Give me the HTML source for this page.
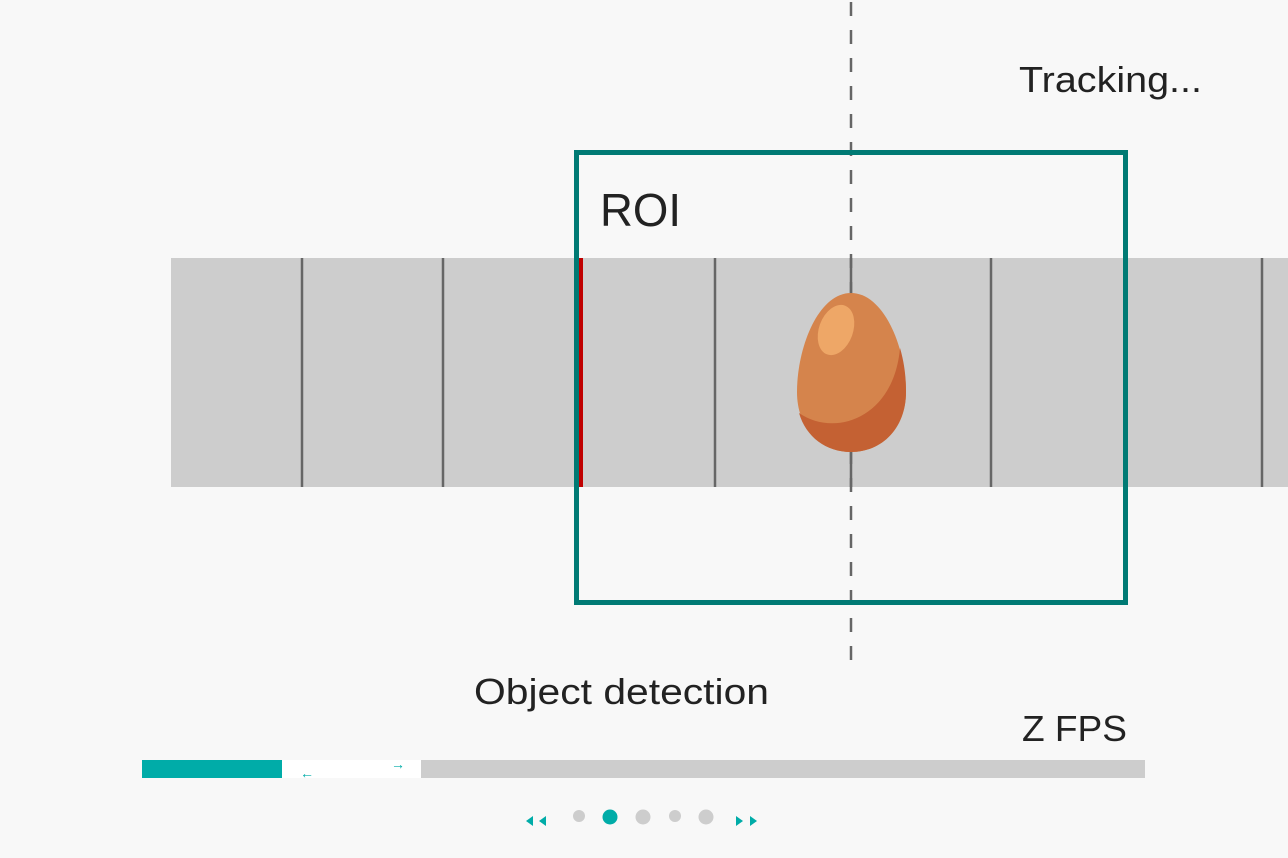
<!DOCTYPE html>
<html><head><meta charset="utf-8"><style>
html,body{margin:0;padding:0;background:#f8f8f8;}
svg{display:block;font-family:"Liberation Sans",sans-serif;}
</style></head><body>
<svg width="1288" height="858" viewBox="0 0 1288 858" xmlns="http://www.w3.org/2000/svg">
<rect width="1288" height="858" fill="#f8f8f8"/>
<rect x="171" y="258" width="1117" height="229" fill="#cdcdcd"/>
<g stroke="#666" stroke-width="2.5">
<line x1="302" y1="258" x2="302" y2="487"/>
<line x1="443" y1="258" x2="443" y2="487"/>
<line x1="715" y1="258" x2="715" y2="487"/>
<line x1="851" y1="258" x2="851" y2="487"/>
<line x1="991" y1="258" x2="991" y2="487"/>
<line x1="1262" y1="258" x2="1262" y2="487"/>
</g>
<line x1="851" y1="2" x2="851" y2="664" stroke="#666" stroke-width="2.5" stroke-dasharray="14 14"/>
<line x1="581" y1="258" x2="581" y2="487" stroke="#c00000" stroke-width="4"/>
<rect x="576.5" y="152.5" width="549" height="450" fill="none" stroke="#007a74" stroke-width="5"/>
<g>
<path d="M851 293 C884 293 906 348 906 392 C906 428 882 452 851 452 C820 452 797 428 797 392 C797 348 818 293 851 293 Z" fill="#d5844c"/>
<path d="M900 348 C905 365 906 380 906 392 C906 428 882 452 851 452 C826 452 806 437 799 413 C835 438 894 418 900 348 Z" fill="#c46133"/>
<ellipse cx="836" cy="330" rx="17" ry="26" transform="rotate(20 836 330)" fill="#eea767"/>
</g>
<text x="600" y="226" font-size="46" fill="#222" textLength="81" lengthAdjust="spacingAndGlyphs">ROI</text>
<text x="1019" y="92" font-size="36" fill="#222" textLength="183" lengthAdjust="spacingAndGlyphs">Tracking...</text>
<text x="474" y="704" font-size="36" fill="#222" textLength="295" lengthAdjust="spacingAndGlyphs">Object detection</text>
<text x="1022" y="741" font-size="36" fill="#222" textLength="105" lengthAdjust="spacingAndGlyphs">Z FPS</text>
<rect x="142" y="760" width="1003" height="18" fill="#cdcdcd"/>
<rect x="142" y="760" width="140" height="18" fill="#00aca8"/>
<rect x="282" y="760" width="139" height="18" fill="#fff"/>
<text x="300" y="778" font-size="14" fill="#00aca8">←</text>
<text x="391" y="769" font-size="14" fill="#00aca8">→</text>
<g fill="#00aca8">
<polygon points="526,821 533,816 533,826"/>
<polygon points="539,821 546,816 546,826"/>
<polygon points="743,821 736,816 736,826"/>
<polygon points="757,821 750,816 750,826"/>
<circle cx="610" cy="817" r="7.5"/>
</g>
<g fill="#cdcdcd">
<circle cx="579" cy="816" r="6"/>
<circle cx="643" cy="817" r="7.5"/>
<circle cx="675" cy="816" r="6"/>
<circle cx="706" cy="817" r="7.5"/>
</g>
</svg>
</body></html>
